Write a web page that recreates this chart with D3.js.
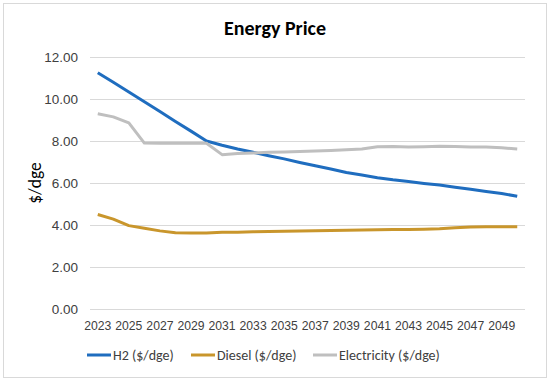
<!DOCTYPE html>
<html>
<head>
<meta charset="utf-8">
<script src="https://cdn.jsdelivr.net/npm/d3@7"></script>
<style>
  body { margin: 0; background: #fff; }
  svg { font-family: Carlito, Calibri, Lato, sans-serif; }
</style>
</head>
<body>
<div id="chart"></div>
<script>
// data
const years = d3.range(2023, 2051);
const h2 = [11.25, 10.8, 10.33, 9.87, 9.4, 8.93, 8.47, 8.0, 7.8, 7.62, 7.46, 7.3, 7.15, 6.98,
  6.82, 6.67, 6.5, 6.38, 6.25, 6.15, 6.07, 5.98, 5.9, 5.8, 5.7, 5.6, 5.5, 5.37];
const diesel = [4.5, 4.28, 3.97, 3.85, 3.72, 3.63, 3.62, 3.62, 3.65, 3.66, 3.68, 3.69, 3.7, 3.71,
  3.73, 3.74, 3.75, 3.76, 3.77, 3.78, 3.79, 3.8, 3.82, 3.87, 3.91, 3.92, 3.92, 3.92];
const electricity = [9.3, 9.15, 8.86, 7.9, 7.89, 7.89, 7.89, 7.89, 7.35, 7.4, 7.43, 7.46, 7.48, 7.5,
  7.52, 7.55, 7.58, 7.62, 7.73, 7.74, 7.72, 7.73, 7.75, 7.74, 7.72, 7.71, 7.68, 7.62];
const yTicks = [0, 2, 4, 6, 8, 10, 12];
const seriesNames = ["H2 ($/dge)", "Diesel ($/dge)", "Electricity ($/dge)"];
const seriesColors = ["#1f6dbf", "#c9962c", "#bfbfbf"];

const chartWidth = 550;
const chartHeight = 383;
const margin = { top: 57, right: 25, bottom: 74, left: 90 };
const width = chartWidth - margin.left - margin.right;
const height = chartHeight - margin.top - margin.bottom;

const root = d3
  .select("#chart")
  .append("svg")
  .attr("width", chartWidth)
  .attr("height", chartHeight);

// outer frame
root
  .append("rect")
  .attr("x", 3.5)
  .attr("y", 3.5)
  .attr("width", chartWidth - 7)
  .attr("height", chartHeight - 9)
  .attr("fill", "#fff")
  .attr("stroke", "#d9d9d9");

const svg = root
  .append("g")
  .attr("transform", `translate(${margin.left}, ${margin.top})`);

// scales
const x = d3.scaleBand().domain(years).range([0, width]);
const y = d3.scaleLinear().domain([0, 12]).range([height, 0]);
const cx = (d) => x(d) + x.bandwidth() / 2;

// gridlines
svg
  .append("g")
  .attr("class", "grid")
  .call(d3.axisLeft(y).tickValues(yTicks).tickSize(-width).tickFormat(""))
  .call((g) => g.select(".domain").remove())
  .call((g) => g.selectAll("line").attr("stroke", "#d9d9d9"));

// y axis labels
svg
  .append("g")
  .call(d3.axisLeft(y).tickValues(yTicks).tickSize(0).tickPadding(12).tickFormat(d3.format(".2f")))
  .call((g) => g.select(".domain").remove())
  .call((g) => g.selectAll("text").attr("fill", "#404040").style("font-size", "13.5px"));

// x axis labels
svg
  .append("g")
  .attr("transform", `translate(0, ${height})`)
  .call(
    d3.axisBottom(x)
      .tickValues(years.filter((d) => (d - 2023) % 2 === 0))
      .tickSize(0)
      .tickPadding(12)
  )
  .call((g) => g.select(".domain").remove())
  .call((g) => g.selectAll("text").attr("fill", "#404040").style("font-size", "12.2px"));

// lines
const line = d3
  .line()
  .x((d, i) => cx(years[i]))
  .y((d) => y(d));

[h2, diesel, electricity].forEach((values, i) => {
  svg
    .append("path")
    .datum(values)
    .attr("d", line)
    .attr("fill", "none")
    .attr("stroke", seriesColors[i])
    .attr("stroke-width", 3)
    .attr("stroke-linejoin", "round");
});

// title
root
  .append("text")
  .attr("x", 275)
  .attr("y", 35)
  .attr("text-anchor", "middle")
  .style("font-size", "20px")
  .style("font-weight", "bold")
  .attr("fill", "#000")
  .text("Energy Price");

// y axis title
root
  .append("text")
  .attr("transform", "translate(41, 183) rotate(-90)")
  .attr("text-anchor", "middle")
  .style("font-size", "17.5px")
  .attr("fill", "#000")
  .text("$/dge");

// legend
const legendX = [87, 191, 313];
const legend = root
  .selectAll(".legend")
  .data(seriesNames)
  .enter()
  .append("g")
  .attr("class", "legend")
  .attr("transform", (d, i) => `translate(${legendX[i]}, 355)`);

legend
  .append("line")
  .attr("x1", 0)
  .attr("x2", 24)
  .attr("stroke", (d, i) => seriesColors[i])
  .attr("stroke-width", 3);

legend
  .append("text")
  .attr("x", 26)
  .attr("dy", "0.35em")
  .style("font-size", "14px")
  .attr("fill", "#404040")
  .text((d) => d);
</script>
</body>
</html>
